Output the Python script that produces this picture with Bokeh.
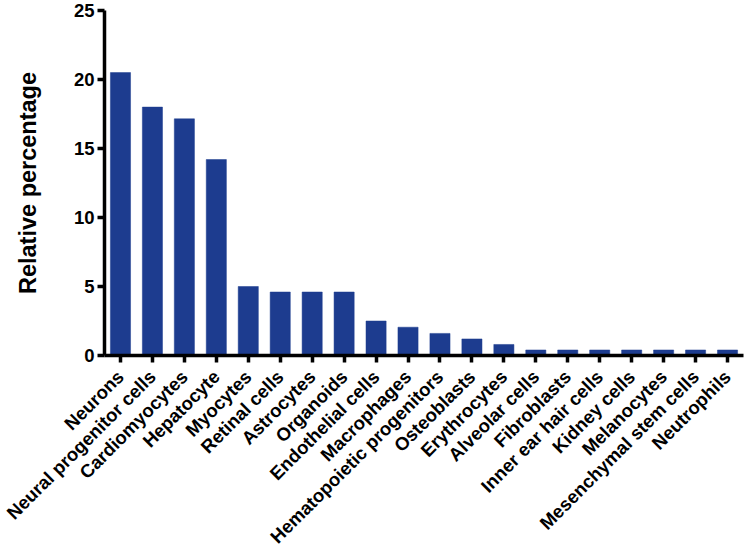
import math
from bokeh.plotting import figure
from bokeh.models import FactorRange, Range1d, FixedTicker, ColumnDataSource
from bokeh.embed import file_html
from bokeh.resources import INLINE

categories = ["Neurons", "Neural progenitor cells", "Cardiomyocytes", "Hepatocyte",
              "Myocytes", "Retinal cells", "Astrocytes", "Organoids",
              "Endothelial cells", "Macrophages", "Hematopoietic progenitors",
              "Osteoblasts", "Erythrocytes", "Alveolar cells", "Fibroblasts",
              "Inner ear hair cells", "Kidney cells", "Melanocytes",
              "Mesenchymal stem cells", "Neutrophils"]
values = [20.5, 18.0, 17.15, 14.2, 5.0, 4.6, 4.6, 4.6, 2.5, 2.05, 1.6, 1.2, 0.8,
          0.4, 0.4, 0.4, 0.4, 0.4, 0.4, 0.4]
y_ticks = [0, 5, 10, 15, 20, 25]

FONT = "Liberation Sans"
BAR_COLOR = "#1d3c8f"

src = ColumnDataSource(dict(cat=categories, val=values))

p = figure(x_range=FactorRange(*categories, range_padding=0),
           y_range=Range1d(0, 25),
           width=745, height=557, output_backend="svg", toolbar_location=None,
           min_border_left=104, min_border_right=2, min_border_top=10,
           min_border_bottom=202)

p.vbar(x="cat", top="val", width=0.63, source=src,
       fill_color=BAR_COLOR, line_color=BAR_COLOR, line_width=0.5)

p.outline_line_color = None
p.xgrid.grid_line_color = None
p.ygrid.grid_line_color = None

p.yaxis.ticker = FixedTicker(ticks=y_ticks)
p.yaxis.minor_tick_line_color = None
p.yaxis.axis_label = "Relative percentage"
p.yaxis.axis_label_text_font = FONT
p.yaxis.axis_label_text_font_style = "bold"
p.yaxis.axis_label_text_font_size = "23.5px"
p.yaxis.axis_label_text_color = "black"
p.yaxis.axis_label_standoff = 30

for ax in (p.xaxis[0], p.yaxis[0]):
    ax.axis_line_width = 3.5
    ax.axis_line_color = "black"
    ax.major_tick_line_width = 3.5
    ax.major_tick_line_color = "black"
    ax.major_tick_out = 7
    ax.major_tick_in = 0
    ax.major_label_text_font = FONT
    ax.major_label_text_font_style = "bold"
    ax.major_label_text_color = "black"

p.yaxis.major_label_text_font_size = "18.5px"
p.xaxis.major_label_text_font_size = "18.5px"
p.yaxis.major_label_standoff = 3
p.xaxis.major_label_orientation = math.pi / 4
p.xaxis.major_label_standoff = 11
p.xaxis.group_text_font_size = "0px"

open("out.html", "w").write(file_html(p, INLINE))
